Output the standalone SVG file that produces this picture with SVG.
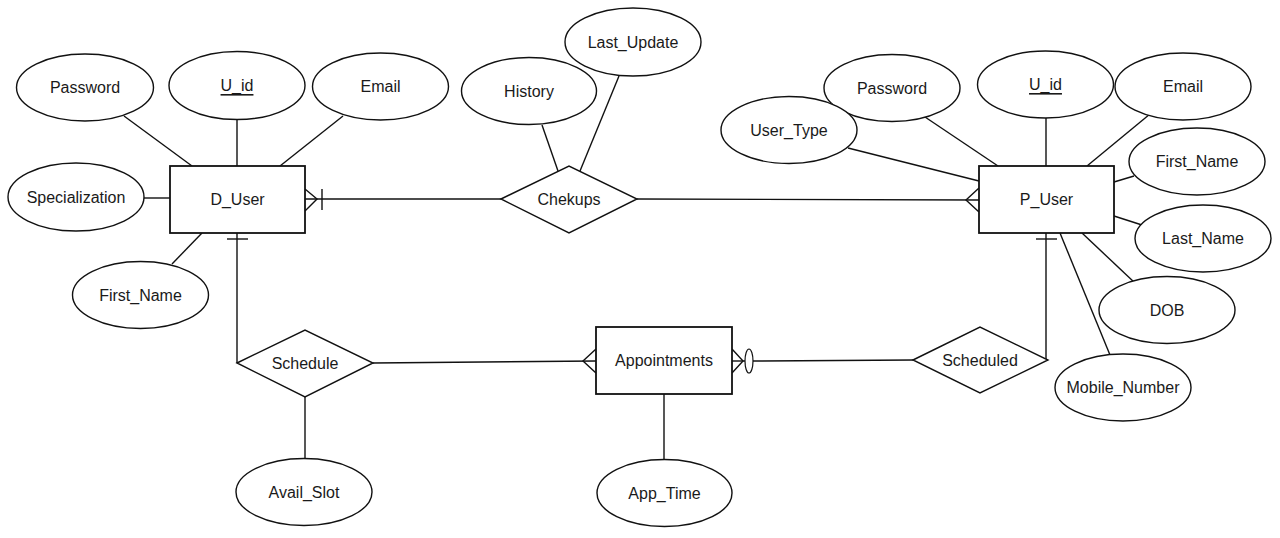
<svg xmlns="http://www.w3.org/2000/svg" width="1280" height="538" viewBox="0 0 1280 538">
<style>
.n ellipse,.n rect,.n polygon{fill:#fff;stroke:#111;stroke-width:1.4}
.n rect{stroke-width:1.8}
text{font-family:"Liberation Sans",Arial,sans-serif;font-size:16px;fill:#1a1a1a;text-anchor:middle;dominant-baseline:central}
.c line,.c polyline,.c path{stroke:#111;stroke-width:1.4;fill:none}
.c ellipse{fill:#fff;stroke:#111;stroke-width:1.2}
.u{text-decoration:underline}
</style>
<rect width="1280" height="538" fill="#fff"/>
<g class="c" id="connectors">
<!-- D_User attributes -->
<line x1="124" y1="116" x2="192" y2="166"/>
<line x1="237" y1="120" x2="237" y2="166"/>
<line x1="343" y1="116" x2="280" y2="166"/>
<line x1="144" y1="198" x2="170" y2="198"/>
<line x1="172" y1="264" x2="202" y2="233"/>
<!-- Chekups attributes -->
<line x1="542" y1="125" x2="558" y2="171"/>
<line x1="619" y1="76" x2="580" y2="171"/>
<!-- P_User attributes -->
<line x1="848" y1="148" x2="979" y2="181"/>
<line x1="925" y1="117" x2="998" y2="166"/>
<line x1="1046" y1="118" x2="1046" y2="166"/>
<line x1="1150" y1="114" x2="1087" y2="166"/>
<line x1="1114" y1="182" x2="1134" y2="176"/>
<line x1="1114" y1="216" x2="1142" y2="225"/>
<line x1="1082" y1="233" x2="1135" y2="283"/>
<line x1="1060" y1="233" x2="1110" y2="355"/>
<!-- Appointments / Schedule attributes -->
<line x1="664" y1="394" x2="664" y2="460"/>
<line x1="305" y1="397" x2="305" y2="459"/>
<!-- D_User - Chekups -->
<line x1="305" y1="199" x2="501" y2="199"/>
<polyline points="305,189 317,199 305,211"/>
<line x1="322" y1="189" x2="322" y2="210"/>
<!-- Chekups - P_User -->
<line x1="637" y1="199" x2="979" y2="200"/>
<polyline points="979,188 966,200 979,212"/>
<!-- D_User - Schedule -->
<polyline points="237,233 237,363"/>
<line x1="227" y1="239" x2="248" y2="239"/>
<!-- Schedule - Appointments -->
<line x1="373" y1="363" x2="596" y2="361"/>
<polyline points="596,349 583,361 596,373"/>
<!-- Appointments - Scheduled -->
<polyline points="732,349 743,361 732,373"/>
<line x1="732" y1="361" x2="745" y2="361"/>
<line x1="753" y1="361" x2="913" y2="360"/>
<ellipse cx="749" cy="361" rx="4" ry="12"/>
<!-- Scheduled - P_User -->
<polyline points="1048,360 1046,360 1046,233"/>
<line x1="1036" y1="239" x2="1057" y2="239"/>
</g>
<g class="n" id="D_User"><rect x="170" y="166" width="135" height="67"/><text x="237.5" y="199.5">D_User</text></g>
<g class="n" id="P_User"><rect x="979" y="166" width="135" height="67"/><text x="1046.5" y="199.5">P_User</text></g>
<g class="n" id="Appointments"><rect x="596" y="327" width="136" height="67"/><text x="664" y="360.5">Appointments</text></g>
<g class="n" id="Chekups"><polygon points="501,199 569,166 637,199 569,233"/><text x="569" y="199">Chekups</text></g>
<g class="n" id="Schedule"><polygon points="237,363 305,330 373,363 305,397"/><text x="305" y="363">Schedule</text></g>
<g class="n" id="Scheduled"><polygon points="913,360 980,327 1048,360 980,393"/><text x="980" y="360">Scheduled</text></g>
<g class="n" id="D_Password"><ellipse cx="85" cy="87.5" rx="68.5" ry="33.5"/><text x="85" y="87.5">Password</text></g>
<g class="n" id="D_U_id"><ellipse cx="237" cy="85.5" rx="68" ry="34"/><text class="u" x="237" y="85.5">U_id</text></g>
<g class="n" id="D_Email"><ellipse cx="380.5" cy="86.5" rx="68" ry="33.5"/><text x="380.5" y="86.5">Email</text></g>
<g class="n" id="D_Specialization"><ellipse cx="76" cy="197" rx="68" ry="34"/><text x="76" y="197">Specialization</text></g>
<g class="n" id="D_First_Name"><ellipse cx="140.5" cy="295" rx="68" ry="33.5"/><text x="140.5" y="295">First_Name</text></g>
<g class="n" id="History"><ellipse cx="529" cy="91" rx="67.5" ry="33.5"/><text x="529" y="91">History</text></g>
<g class="n" id="Last_Update"><ellipse cx="633" cy="42" rx="68" ry="34"/><text x="633" y="42">Last_Update</text></g>
<g class="n" id="P_Password"><ellipse cx="892" cy="88" rx="68" ry="33.5"/><text x="892" y="88">Password</text></g>
<g class="n" id="P_U_id"><ellipse cx="1045.5" cy="84.5" rx="68" ry="33.5"/><text class="u" x="1045.5" y="84.5">U_id</text></g>
<g class="n" id="P_Email"><ellipse cx="1183" cy="86.5" rx="68" ry="33.5"/><text x="1183" y="86.5">Email</text></g>
<g class="n" id="User_Type"><ellipse cx="789" cy="130" rx="68" ry="33.5"/><text x="789" y="130">User_Type</text></g>
<g class="n" id="P_First_Name"><ellipse cx="1197" cy="161.5" rx="68" ry="33.5"/><text x="1197" y="161.5">First_Name</text></g>
<g class="n" id="Last_Name"><ellipse cx="1203" cy="238.5" rx="68" ry="33.5"/><text x="1203" y="238.5">Last_Name</text></g>
<g class="n" id="DOB"><ellipse cx="1167" cy="310" rx="68" ry="33.5"/><text x="1167" y="310">DOB</text></g>
<g class="n" id="Mobile_Number"><ellipse cx="1123" cy="387.5" rx="68" ry="33.5"/><text x="1123" y="387.5">Mobile_Number</text></g>
<g class="n" id="Avail_Slot"><ellipse cx="304" cy="492" rx="68" ry="33.5"/><text x="304" y="492">Avail_Slot</text></g>
<g class="n" id="App_Time"><ellipse cx="664.5" cy="493" rx="67.5" ry="33.5"/><text x="664.5" y="493">App_Time</text></g>
</svg>
